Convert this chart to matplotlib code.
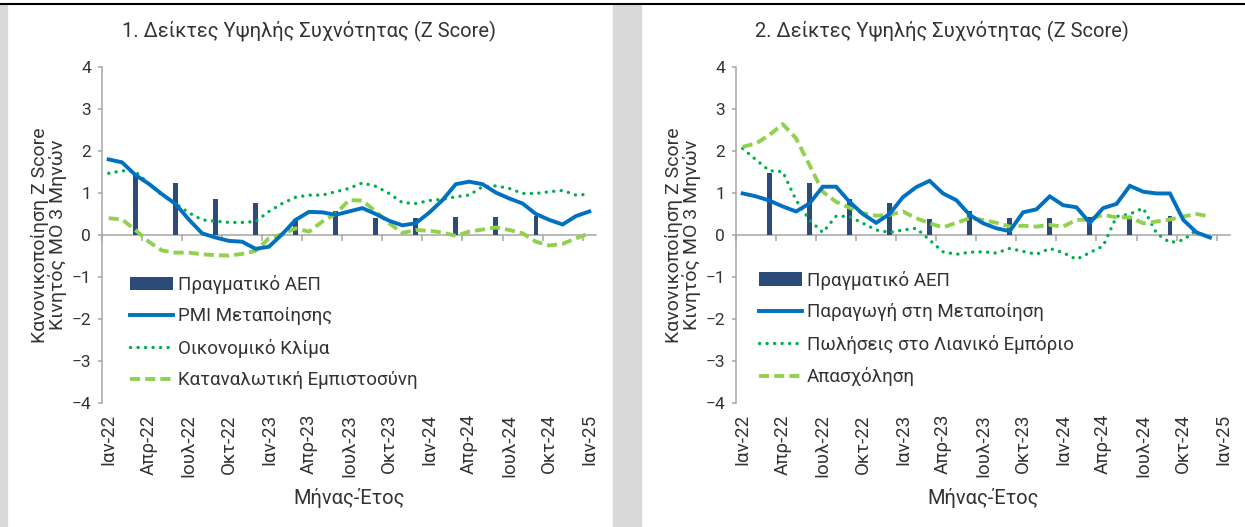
import matplotlib
matplotlib.use("Agg")
import matplotlib.pyplot as plt
from matplotlib.patches import Rectangle
from matplotlib.lines import Line2D

plt.rcParams['font.family'] = ['Roboto', 'DejaVu Sans']

# Data (monthly, Jan-22 .. Jan-25)
tick_labels = ['Ιαν-22', 'Απρ-22', 'Ιουλ-22', 'Οκτ-22', 'Ιαν-23', 'Απρ-23', 'Ιουλ-23',
               'Οκτ-23', 'Ιαν-24', 'Απρ-24', 'Ιουλ-24', 'Οκτ-24', 'Ιαν-25']
n_months = 37

# quarterly real GDP, placed at Mar-22, Jun-22, ... Sep-24 (month index)
gdp_idx = [2, 5, 8, 11, 14, 17, 20, 23, 26, 29, 32]
gdp = [1.47, 1.24, 0.86, 0.77, 0.38, 0.56, 0.41, 0.40, 0.42, 0.44, 0.46]

# panel 1
pmi = [1.80, 1.73, 1.43, 1.22, 0.97, 0.74, 0.37, 0.04, -0.06, -0.14, -0.16, -0.33, -0.28,
       0.02, 0.36, 0.55, 0.54, 0.48, 0.56, 0.64, 0.50, 0.34, 0.23, 0.28, 0.53, 0.83,
       1.21, 1.27, 1.21, 1.01, 0.87, 0.75, 0.50, 0.36, 0.25, 0.45, 0.56]
climate = [1.47, 1.53, 1.51, 1.22, 0.95, 0.75, 0.53, 0.36, 0.33, 0.30, 0.30, 0.32, 0.56,
           0.75, 0.90, 0.95, 0.95, 1.03, 1.11, 1.24, 1.16, 0.99, 0.77, 0.75, 0.82, 0.85,
           0.91, 0.95, 1.15, 1.17, 1.11, 0.99, 0.99, 1.03, 1.06, 0.95, 0.97]
confidence = [0.40, 0.37, 0.12, -0.16, -0.37, -0.42, -0.42, -0.46, -0.48, -0.49, -0.45,
              -0.38, -0.08, 0.02, 0.16, 0.08, 0.32, 0.50, 0.83, 0.82, 0.56, 0.28, 0.05,
              0.12, 0.10, 0.06, -0.02, 0.08, 0.13, 0.18, 0.12, 0.04, -0.16, -0.25, -0.21,
              -0.08, 0.04]

# panel 2
production = [0.99, 0.92, 0.82, 0.68, 0.56, 0.75, 1.15, 1.15, 0.79, 0.50, 0.29, 0.50,
              0.90, 1.14, 1.29, 0.99, 0.83, 0.48, 0.28, 0.16, 0.09, 0.54, 0.61, 0.92,
              0.71, 0.66, 0.29, 0.64, 0.74, 1.17, 1.03, 0.99, 0.99, 0.36, 0.06, -0.06]
retail = [2.06, 1.79, 1.53, 1.51, 0.83, 0.36, 0.06, 0.45, 0.44, 0.28, 0.12, 0.06, 0.12,
          0.16, -0.12, -0.40, -0.46, -0.41, -0.40, -0.43, -0.32, -0.39, -0.46, -0.32,
          -0.42, -0.58, -0.42, -0.26, 0.44, 0.50, 0.64, 0.04, -0.18, -0.12, 0.12]
employment = [2.10, 2.18, 2.38, 2.64, 2.30, 1.67, 1.03, 0.79, 0.65, 0.52, 0.46, 0.48,
              0.56, 0.40, 0.28, 0.18, 0.29, 0.40, 0.36, 0.29, 0.20, 0.22, 0.20, 0.24,
              0.20, 0.36, 0.37, 0.48, 0.42, 0.42, 0.28, 0.32, 0.37, 0.44, 0.50, 0.44]

BAR = '#2D4B78'
BLUE = '#0070C0'
DOT = '#00B050'
DASH = '#92D050'
GRID = '#A6A6A6'
TXT = '#333333'

fig = plt.figure(figsize=(12.45, 5.27), dpi=100)

# background bands and top rule
fig.patches.append(Rectangle((0, 0), 7 / 1245, 1 - 5 / 527, transform=fig.transFigure,
                             color='#D9D9D9', zorder=0))
fig.patches.append(Rectangle((613 / 1245, 0), 28 / 1245, 1 - 5 / 527, transform=fig.transFigure,
                             color='#D9D9D9', zorder=0))
fig.add_artist(Line2D([0, 1], [1 - 3.5 / 527, 1 - 3.5 / 527], transform=fig.transFigure,
                      color='black', lw=1.5))


def panel(left_px, title, title_x, series, labels, legend_x, legend_y):
    ax = fig.add_axes([left_px / 1245, 124 / 527, 494 / 1245, 336 / 527])
    ax.set_xlim(-0.5, n_months - 0.5)
    ax.set_ylim(-4, 4)

    h_bar = ax.bar(gdp_idx, gdp, width=0.36, color=BAR, zorder=2)
    h1, = ax.plot(range(len(series[0])), series[0], color=BLUE, lw=2.8, zorder=4,
                  solid_joinstyle='miter')
    h2, = ax.plot(range(len(series[1])), series[1], color=DOT, lw=2.4, zorder=3,
                  linestyle=(0, (0.05, 2.2)), dash_capstyle='round')
    h3, = ax.plot(range(len(series[2])), series[2], color=DASH, lw=2.8, zorder=3,
                  linestyle=(0, (2.6, 1.3)))

    for s in ['top', 'right', 'bottom']:
        ax.spines[s].set_visible(False)
    ax.spines['left'].set_color(GRID)
    ax.spines['left'].set_linewidth(1.1)

    ax.set_yticks(range(-4, 5))
    ax.tick_params(axis='y', direction='out', length=3, width=1.1, color=GRID,
                   labelsize=12.5, labelcolor=TXT, pad=5)
    ax.set_xticks(range(0, n_months, 3))
    ax.set_xticklabels(tick_labels, rotation=90, fontsize=13.5, color=TXT)
    ax.tick_params(axis='x', length=0, pad=8)

    # zero line with category tick marks
    sec = ax.secondary_xaxis(0.5)
    sec.set_alignment('bottom')
    sec.spines['bottom'].set_color(GRID)
    sec.spines['bottom'].set_linewidth(1.1)
    sec.set_xticks([x - 0.5 for x in range(0, n_months + 1, 3)])
    sec.tick_params(axis='x', direction='out', length=4, width=1.1, color=GRID,
                    labelbottom=False)

    ax.set_ylabel('Κανονικοποίηση Z Score\nΚινητός ΜΟ 3 Μηνών', fontsize=14,
                  color=TXT, linespacing=0.95)
    ax.yaxis.set_label_coords(-0.07, 0.5)
    ax.set_xlabel('Μήνας-Έτος', fontsize=14.5, color=TXT)
    ax.xaxis.set_label_coords(0.5, -0.253)

    ax.legend([h_bar, h1, h2, h3], labels, loc='upper left',
              bbox_to_anchor=(legend_x, legend_y), frameon=False, fontsize=13.5,
              handlelength=2.3, handletextpad=0.25, labelspacing=0.72,
              borderaxespad=0, borderpad=0, labelcolor=TXT)

    fig.text(title_x / 1245, 1 - 31 / 527, title, ha='center', va='center',
             fontsize=14.5, color=TXT)
    return ax


panel(102, '1. Δείκτες Υψηλής Συχνότητας (Z Score)', 309,
      [pmi, climate, confidence],
      ['Πραγματικό ΑΕΠ', 'PMI Μεταποίησης', 'Οικονομικό Κλίμα', 'Καταναλωτική Εμπιστοσύνη'],
      0.057, 0.382)
panel(736, '2. Δείκτες Υψηλής Συχνότητας (Z Score)', 942,
      [production, retail, employment],
      ['Πραγματικό ΑΕΠ', 'Παραγωγή στη Μεταποίηση', 'Πωλήσεις στο Λιανικό Εμπόριο',
       'Απασχόληση'],
      0.047, 0.394)

fig.savefig('out.png', dpi=100, facecolor='white')
